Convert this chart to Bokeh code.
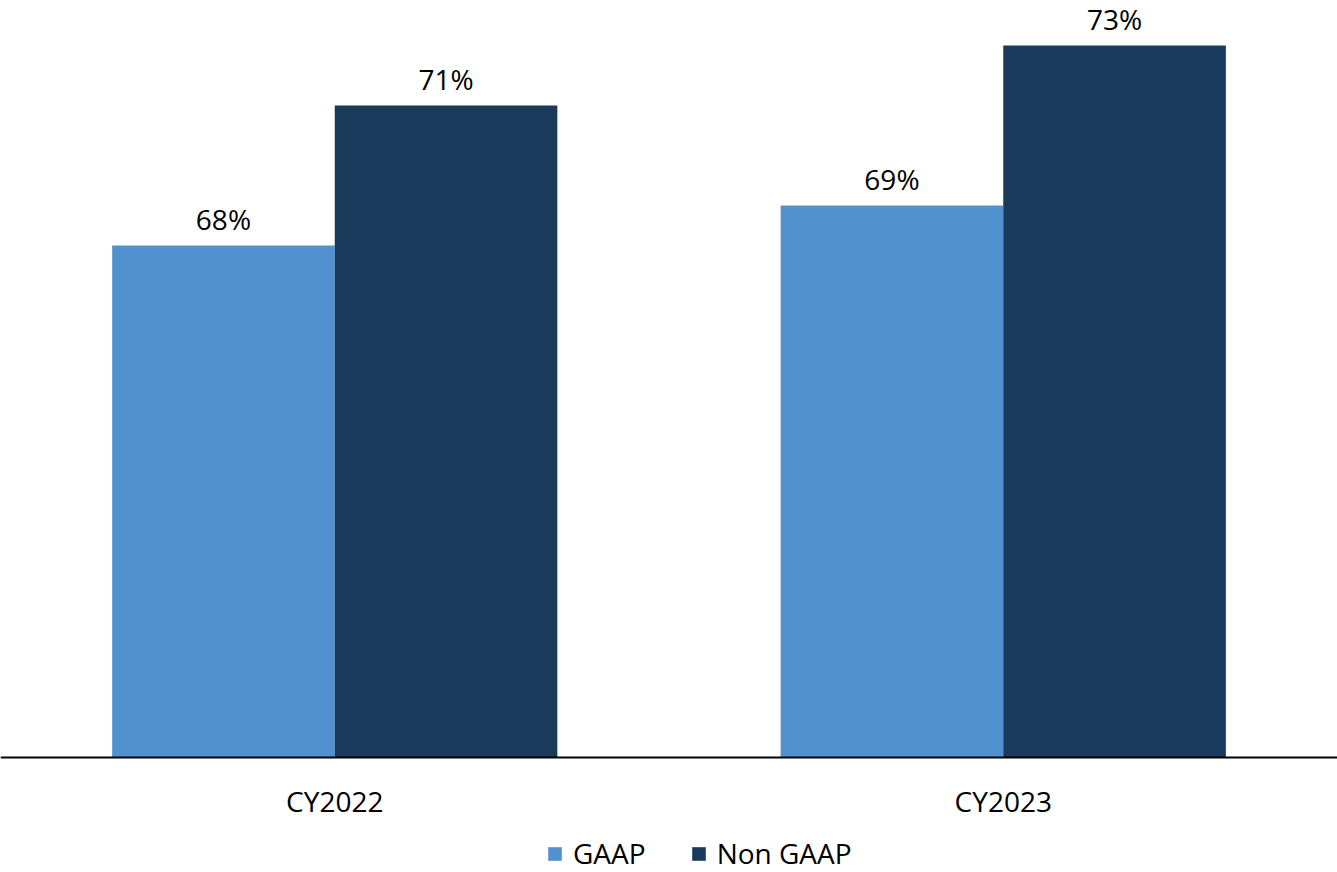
from bokeh.plotting import figure
from bokeh.models import ColumnDataSource, FactorRange, Range1d, Legend, LegendItem, Span
from bokeh.transform import dodge
from bokeh.embed import file_html
from bokeh.resources import INLINE

categories = ["CY2022", "CY2023"]
gaap = [67.8, 68.8]
non_gaap = [71.3, 72.8]
gaap_labels = ["68%", "69%"]
non_gaap_labels = ["71%", "73%"]

FONT = "Open Sans"
FS = "28px"
GAAP_COLOR = "#5291CF"
NON_COLOR = "#1A3A5C"
BASE = 55

src = ColumnDataSource(dict(cat=categories, gaap=gaap, non=non_gaap,
                            gl=gaap_labels, nl=non_gaap_labels,
                            base=[BASE] * len(categories)))

PX = 40.0  # pixels per percentage point
p = figure(width=1337, height=872,
           x_range=FactorRange(*categories, range_padding=0),
           y_range=Range1d(BASE - 115 / PX, BASE + 757 / PX),
           output_backend="svg", toolbar_location=None,
           min_border=0, min_border_left=0, min_border_right=0, min_border_top=0,
           min_border_bottom=0)

r1 = p.vbar(x=dodge("cat", -0.1665, range=p.x_range), top="gaap", bottom="base", width=0.333,
            source=src, fill_color=GAAP_COLOR, line_color=None)
r2 = p.vbar(x=dodge("cat", 0.1665, range=p.x_range), top="non", bottom="base", width=0.333,
            source=src, fill_color=NON_COLOR, line_color=None)

p.text(x=dodge("cat", -0.1665, range=p.x_range), y="gaap", text="gl", source=src,
       text_align="center", text_baseline="middle", y_offset=-27,
       text_font={"value": FONT}, text_font_size=FS, text_color="black")
p.text(x=dodge("cat", 0.1665, range=p.x_range), y="non", text="nl", source=src,
       text_align="center", text_baseline="middle", y_offset=-27,
       text_font={"value": FONT}, text_font_size=FS, text_color="black")

# category axis line and labels
p.add_layout(Span(location=BASE, dimension="width", line_color="black", line_width=2))
p.text(x="cat", y="base", text="cat", source=src,
       text_align="center", text_baseline="middle", y_offset=43,
       text_font={"value": FONT}, text_font_size=FS, text_color="black")

p.xaxis.visible = False
p.yaxis.visible = False
p.xgrid.visible = False
p.ygrid.visible = False
p.outline_line_color = None

legend = Legend(items=[LegendItem(label="GAAP", renderers=[r1]),
                       LegendItem(label="Non GAAP", renderers=[r2])],
                orientation="horizontal", location=(546, 0),
                label_text_font=FONT, label_text_font_size=FS, label_text_color="black",
                glyph_width=17, glyph_height=17, label_standoff=10, spacing=44,
                padding=0, margin=0, border_line_color=None, background_fill_alpha=0)
p.add_layout(legend, "center")

open("out.html", "w").write(file_html(p, INLINE))
